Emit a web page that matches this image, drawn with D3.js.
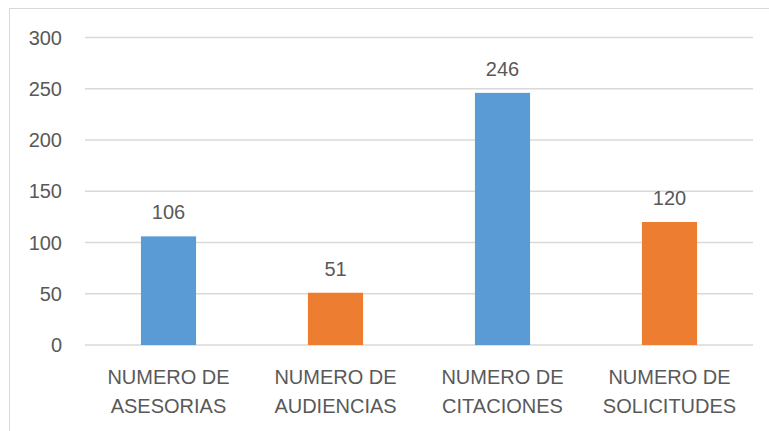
<!DOCTYPE html>
<html>
<head>
<meta charset="utf-8">
<script src="https://cdn.jsdelivr.net/npm/d3@7"></script>
<style>
  body { margin: 0; background: #fff; }
  text { font-family: "Liberation Sans", Arial, sans-serif; fill: #595959; }
</style>
</head>
<body>
<div class="svg-container"></div>
<script>
// data
const categories = [
  ['NUMERO DE', 'ASESORIAS'],
  ['NUMERO DE', 'AUDIENCIAS'],
  ['NUMERO DE', 'CITACIONES'],
  ['NUMERO DE', 'SOLICITUDES']
];
const values = [106, 51, 246, 120];
const barColors = ['#5b9bd5', '#ed7d31', '#5b9bd5', '#ed7d31'];
const yTicks = [0, 50, 100, 150, 200, 250, 300];

const width = 769;
const height = 431;
const margin = { top: 37.5, right: 16, bottom: 86, left: 85 };
const fontSize = '20px';

const svg = d3.select('.svg-container')
  .append('svg')
  .attr('width', width)
  .attr('height', height);

// chart border
svg.append('rect')
  .attr('x', 9.5)
  .attr('y', 8.5)
  .attr('width', width - 9)
  .attr('height', height)
  .attr('fill', 'none')
  .attr('stroke', '#d9d9d9');

const x = d3.scaleBand()
  .domain(d3.range(values.length))
  .range([margin.left, width - margin.right])
  .paddingInner(0.67)
  .paddingOuter(0.335);

const y = d3.scaleLinear()
  .domain([0, 300])
  .range([height - margin.bottom, margin.top]);

// gridlines
svg.selectAll('.grid')
  .data(yTicks)
  .enter()
  .append('line')
  .attr('class', 'grid')
  .attr('x1', margin.left)
  .attr('x2', width - margin.right)
  .attr('y1', d => y(d))
  .attr('y2', d => y(d))
  .attr('stroke', '#d9d9d9')
  .attr('stroke-width', 1.3);

// y axis labels
svg.selectAll('.ytick')
  .data(yTicks)
  .enter()
  .append('text')
  .attr('class', 'ytick')
  .attr('x', 62)
  .attr('y', d => y(d))
  .attr('dy', '0.35em')
  .attr('text-anchor', 'end')
  .style('font-size', fontSize)
  .text(d => d);

// bars
svg.selectAll('.bar')
  .data(values)
  .enter()
  .append('rect')
  .attr('class', 'bar')
  .attr('x', (d, i) => x(i))
  .attr('width', x.bandwidth())
  .attr('y', d => y(d))
  .attr('height', d => y(0) - y(d))
  .attr('fill', (d, i) => barColors[i]);

// value labels
svg.selectAll('.val')
  .data(values)
  .enter()
  .append('text')
  .attr('class', 'val')
  .attr('x', (d, i) => x(i) + x.bandwidth() / 2)
  .attr('y', d => y(d) - 17)
  .attr('text-anchor', 'middle')
  .style('font-size', fontSize)
  .text(d => d);

// category labels
const cat = svg.selectAll('.cat')
  .data(categories)
  .enter()
  .append('text')
  .attr('class', 'cat')
  .attr('text-anchor', 'middle')
  .style('font-size', fontSize);

cat.selectAll('tspan')
  .data((d, i) => d.map(t => ({ t: t, i: i })))
  .enter()
  .append('tspan')
  .attr('x', d => x(d.i) + x.bandwidth() / 2)
  .attr('y', (d, j) => 384 + j * 29)
  .text(d => d.t);
</script>
</body>
</html>
